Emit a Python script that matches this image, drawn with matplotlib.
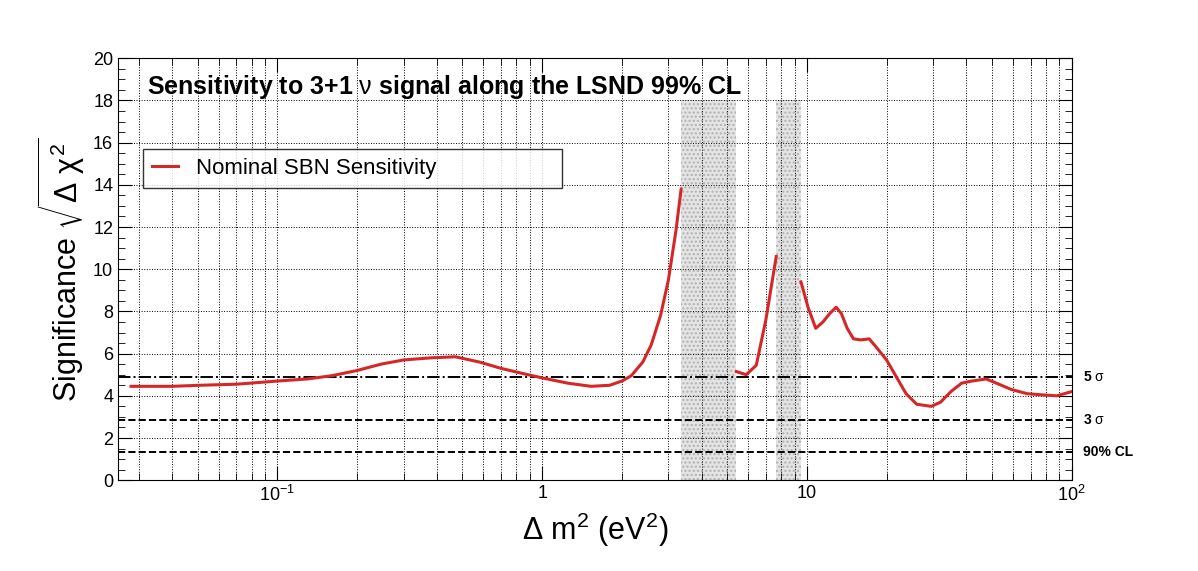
import numpy as np
from matplotlib import pyplot as plt
from matplotlib.ticker import LogLocator, MultipleLocator, FixedLocator

plt.rcParams['font.family'] = ['Liberation Sans', 'DejaVu Sans']
plt.rcParams['mathtext.fontset'] = 'custom'
plt.rcParams['mathtext.rm'] = 'Liberation Sans'
plt.rcParams['mathtext.it'] = 'Liberation Sans'

# Sensitivity curve segments
dm2_a = [0.028, 0.04, 0.051, 0.07, 0.1, 0.13, 0.16, 0.2, 0.246, 0.3, 0.38, 0.47, 0.58,
         0.70, 0.85, 1.0, 1.25, 1.53, 1.8, 2.0, 2.17, 2.4, 2.58, 2.8, 3.0, 3.2, 3.35]
sig_a = [4.45, 4.45, 4.5, 4.55, 4.7, 4.8, 4.95, 5.2, 5.5, 5.7, 5.8, 5.85, 5.6,
         5.3, 5.05, 4.85, 4.6, 4.45, 4.5, 4.7, 4.95, 5.6, 6.4, 7.8, 9.5, 11.8, 13.8]
dm2_b = [5.42, 5.9, 6.44, 7.0, 7.3, 7.66]
sig_b = [5.15, 5.0, 5.45, 7.6, 9.0, 10.6]
dm2_c = [9.5, 10.1, 10.8, 11.5, 12.2, 12.9, 13.5, 14.2, 15.0, 16.0, 17.2, 18.3, 20.0,
         22.0, 23.7, 26.0, 29.5, 32.0, 35.0, 38.4, 42.0, 47.6, 52.0, 59.2, 68.0, 76.7, 88.0, 100.0]
sig_c = [9.4, 8.2, 7.2, 7.5, 7.9, 8.2, 7.9, 7.2, 6.7, 6.65, 6.7, 6.3, 5.7,
         4.8, 4.1, 3.6, 3.5, 3.7, 4.2, 4.6, 4.7, 4.8, 4.6, 4.3, 4.1, 4.05, 4.0, 4.2]
bands = [(3.35, 5.42), (7.66, 9.5)]
levels = [4.88, 2.84, 1.33]
level_labels = [r'5 $\sigma$', r'3 $\sigma$', '90% CL']
level_styles = ['-.', '--', '--']

fig = plt.figure(figsize=(11.98, 5.71), dpi=100)
ax = fig.add_axes([0.0985, 0.159, 0.796, 0.739])
ax.set_xscale('log')
ax.set_xlim(0.025, 100)
ax.set_ylim(0, 20)

for lo, hi in bands:
    ax.fill_between([lo, hi], 0, 18, facecolor='#e4e4e4', edgecolor='#b0b0b0',
                    hatch='....', linewidth=0, zorder=1)

for lv, lab, ls in zip(levels, level_labels, level_styles):
    ax.axhline(lv, color='black', linestyle=ls, linewidth=1.4, zorder=2)
    ax.text(1.012, lv, lab, transform=ax.get_yaxis_transform(), va='center',
            fontsize=10, fontweight='bold')

ax.plot(dm2_a, sig_a, color='#d62728', linewidth=2.2, label='Nominal SBN Sensitivity', zorder=3)
ax.plot(dm2_b, sig_b, color='#d62728', linewidth=2.2, zorder=3)
ax.plot(dm2_c, sig_c, color='#d62728', linewidth=2.2, zorder=3)

ax.yaxis.set_major_locator(MultipleLocator(2))
ax.yaxis.set_minor_locator(MultipleLocator(0.5))
ax.xaxis.set_major_locator(FixedLocator([0.1, 1, 10, 100]))
ax.xaxis.set_minor_locator(LogLocator(base=10, subs=np.arange(2, 10), numticks=20))
ax.set_xticklabels(['$10^{-1}$', '1', '10', '$10^{2}$'])
ax.tick_params(which='both', direction='in', top=True, right=True, labelsize=13)
ax.tick_params(which='major', length=10)
ax.tick_params(which='minor', length=5)
ax.grid(which='major', linestyle=':', color='black', linewidth=0.7)
ax.grid(which='minor', axis='x', linestyle=':', color='black', linewidth=0.7)

ax.set_xlabel(r'$\Delta$ m$^{2}$ (eV$^{2}$)', fontsize=22)
ax.set_ylabel(r'Significance $\sqrt{\Delta\ \chi^{2}}$', fontsize=22)
ax.text(0.03, 0.965, r'Sensitivity to 3+1 $\nu$ signal along the LSND 99% CL',
        transform=ax.transAxes, fontsize=18, fontweight='bold', va='top')

leg = ax.legend(loc='upper left', bbox_to_anchor=(0.026, 0.69, 0.44, 0.095), mode='expand',
                fontsize=16, fancybox=False, edgecolor='black', borderpad=0.4,
                handlelength=1.2, borderaxespad=0)
leg.get_frame().set_linewidth(1)

fig.savefig('out.png')
